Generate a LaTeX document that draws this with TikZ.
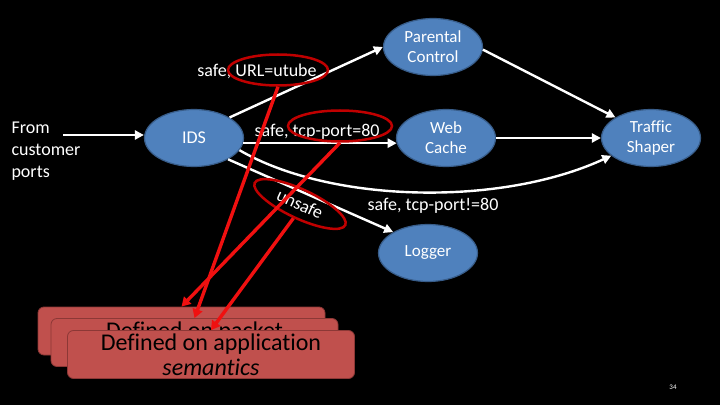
\documentclass[tikz,border=0pt]{standalone}
\usepackage{fontspec}
\setmainfont{Carlito}[Ligatures=NoCommon]
\usetikzlibrary{arrows.meta,shapes.geometric}
\definecolor{nodeblue}{HTML}{4F81BD}
\definecolor{nodeedge}{HTML}{385D8A}
\definecolor{calred}{HTML}{C0504D}
\definecolor{caledge}{HTML}{8C3836}
\definecolor{ringred}{HTML}{C00000}
\definecolor{pointred}{HTML}{F01010}
\tikzset{
  nfbox/.style={ellipse,draw=nodeedge,line width=1.2pt,fill=nodeblue,text=white,align=center,minimum width=99pt,minimum height=57pt,inner sep=0pt,font=\fontsize{17pt}{20pt}\selectfont},
  flow/.style={-{Triangle[length=9pt,width=9pt]},line width=2.4pt,white},
  rulelabel/.style={text=white,font=\fontsize{18pt}{22pt}\selectfont},
  ring/.style={ellipse,draw=ringred,line width=2.5pt,inner sep=0pt},
  notebox/.style={rectangle,rounded corners=6pt,draw=caledge,line width=0.8pt,fill=calred,align=center,minimum width=287pt,minimum height=48pt,inner sep=0pt,font=\fontsize{24pt}{25pt}\selectfont},
  redarrow/.style={draw=pointred,line width=3.4pt,-{Triangle[length=9pt,width=10pt]}}
}
\begin{document}
\begin{tikzpicture}[x=1pt,y=1pt]
  \fill[black] (0,0) rectangle (720,405);
  \node[nfbox,font=\fontsize{18pt}{22pt}\selectfont] (ids) at (194,267) {IDS};
  \node[nfbox] (pc) at (433,358) {Parental\\Control};
  \node[nfbox] (wc) at (446,267) {Web\\Cache};
  \node[nfbox] (ts) at (651,267) {Traffic\\Shaper};
  \node[nfbox] (log) at (428,152) {Logger};
  \node[rulelabel,anchor=west,align=left] (src) at (8,254) {From\\customer\\ports};
  \coordinate (in) at (63,270);
  \draw[flow] (in) -- (in -| ids.west);
  \draw[flow] (ids.30) -- (pc.west);
  \draw[flow] (ids.-6) -- (wc.186);
  \draw[flow] (ids.-15) .. controls (330,202) and (500,198) .. (ts.204);
  \draw[flow] (ids.-32) -- (log.149);
  \draw[flow] (pc.-3) -- (ts.150);
  \draw[flow] (wc.east) -- (ts.west);
  \node[rulelabel,anchor=base] (urltxt) at (257,328) {safe, URL=utube};
  \node[rulelabel,anchor=base] (tcptxt) at (317,268) {safe, tcp-port=80};
  \node[rulelabel,fill=black,rotate=-25,inner sep=2pt] (unsafetxt) at (300,201) {unsafe};
  \node[rulelabel,anchor=base] (othertxt) at (433,195) {safe, tcp-port!=80};
  \node[ring,minimum width=100pt,minimum height=31pt] (url) at (278,335) {};
  \node[ring,minimum width=104pt,minimum height=31pt] (tcp) at (340,279) {};
  \node[ring,minimum width=100pt,minimum height=29pt,rotate=-25] (unsafe) at (300,201) {};
  \node[notebox] (pkt1) at (181.5,74) {};
  \node[notebox] (pkt2) at (194.5,62.5) {Defined on packet\\\mbox{}};
  \node[notebox] (app) at (211,50.5) {Defined on application\\\textit{semantics}};
  \draw[redarrow] (tcp.south) -- (pkt1.north);
  \draw[redarrow] (url.south) -- (pkt2.north);
  \draw[redarrow] (unsafe.south) -- (app.north);
  \node[text=white,font=\fontsize{7pt}{8pt}\selectfont] (pageno) at (673,18) {34};
\end{tikzpicture}
\end{document}
